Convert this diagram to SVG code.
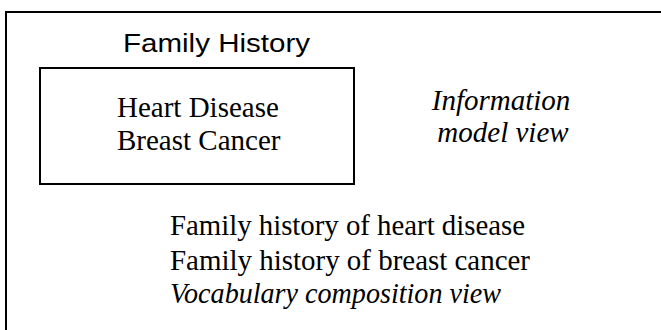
<svg xmlns="http://www.w3.org/2000/svg" width="661" height="330" viewBox="0 0 661 330">
<style>
.frame{fill:none;stroke:#000;stroke-width:2}
.serif{font-family:"Liberation Serif","Times New Roman",serif;font-size:29px;fill:#000}
.it{font-style:italic}
.sans{font-family:"Liberation Sans",Arial,sans-serif;font-size:25px;fill:#000}
</style>
<rect width="661" height="330" fill="#fff"/>
<g id="outer-frame">
<path class="frame" d="M6,340 L6,12 L670,12"/>
</g>
<g id="family-history">
<text class="sans" x="123" y="52" textLength="187" lengthAdjust="spacingAndGlyphs">Family History</text>
<rect class="frame" x="40" y="68" width="314" height="116"/>
<text class="serif" x="117" y="117">Heart Disease</text>
<text class="serif" x="117" y="150">Breast Cancer</text>
</g>
<g id="information-model-view">
<text class="serif it" x="501" y="110" text-anchor="middle">Information</text>
<text class="serif it" x="503" y="142" text-anchor="middle">model view</text>
</g>
<g id="vocabulary-composition-view">
<text class="serif" x="170" y="235" textLength="355" lengthAdjust="spacingAndGlyphs">Family history of heart disease</text>
<text class="serif" x="170" y="270" textLength="360" lengthAdjust="spacingAndGlyphs">Family history of breast cancer</text>
<text class="serif it" x="170" y="303" textLength="331" lengthAdjust="spacingAndGlyphs">Vocabulary composition view</text>
</g>
<g id="connectors"/>
</svg>
